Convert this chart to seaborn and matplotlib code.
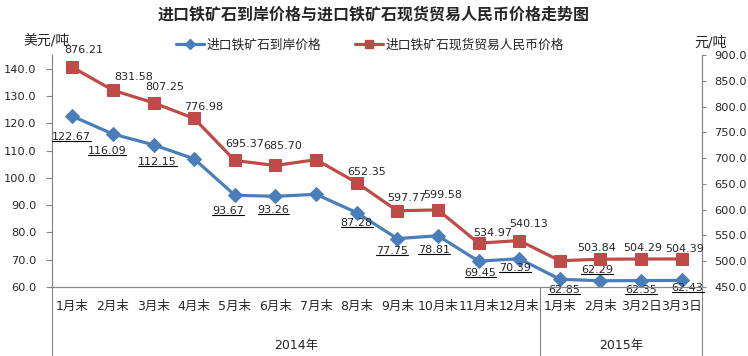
import numpy as np
import pandas as pd
import seaborn as sns
import matplotlib.pyplot as plt
from matplotlib.lines import Line2D

# Data
categories = ['1月末', '2月末', '3月末', '4月末', '5月末', '6月末', '7月末', '8月末',
              '9月末', '10月末', '11月末', '12月末', '1月末', '2月末', '3月2日', '3月3日']
years = ['2014年', '2015年']
year_counts = [12, 4]

usd_price = [122.67, 116.09, 112.15, 107.0, 93.67, 93.26, 94.0, 87.28,
             77.75, 78.81, 69.45, 70.39, 62.85, 62.29, 62.35, 62.43]
rmb_price = [876.21, 831.58, 807.25, 776.98, 695.37, 685.70, 697.0, 652.35,
             597.77, 599.58, 534.97, 540.13, 501.0, 503.84, 504.29, 504.39]

usd_name = '进口铁矿石到岸价格'
rmb_name = '进口铁矿石现货贸易人民币价格'

# which points carry a value label
usd_labeled = [0, 1, 2, 4, 5, 7, 8, 9, 10, 11, 12, 13, 14, 15]
rmb_labeled = [0, 1, 2, 3, 4, 5, 7, 8, 9, 10, 11, 13, 14, 15]

# label offsets from the point (pixels), as placed in the original
usd_off = {0: (-1, -21), 1: (-6, -17), 2: (4, -17), 4: (-7, -16), 5: (-2, -14),
           7: (0, -10), 8: (-5, -12), 9: (-4, -14), 10: (2, -12), 11: (-4, -9),
           12: (4, -11), 13: (-3, 11), 14: (0, -9), 15: (6, -8)}
rmb_off = {0: (11, 17), 1: (21, 13), 2: (11, 16), 3: (9, 11), 4: (10, 16),
           5: (7, 19), 7: (10, 11), 8: (9, 13), 9: (5, 15), 10: (14, 10),
           11: (9, 17), 13: (-4, 11), 14: (2, 11), 15: (3, 10)}

df = pd.DataFrame({'pos': np.arange(len(categories)), 'cat': categories,
                   'usd': usd_price, 'rmb': rmb_price})

blue = '#4A7EBB'
red = '#BE4B48'
grey = '#868686'

sns.set_style('white')
plt.rcParams['font.family'] = ['DejaVu Sans', 'Noto Sans CJK SC']

fig = plt.figure(figsize=(7.48, 3.56), dpi=100)
ax = fig.add_axes([52 / 748, 69 / 356, 650 / 748, 232 / 356])
ax2 = ax.twinx()

sns.lineplot(data=df, x='pos', y='usd', ax=ax, color=blue, linewidth=2.3,
             marker='D', markersize=7, markeredgecolor=blue, label=usd_name, legend=False)
sns.lineplot(data=df, x='pos', y='rmb', ax=ax2, color=red, linewidth=2.3,
             marker='s', markersize=9, markeredgecolor=red, label=rmb_name, legend=False)

n = len(categories)
ax.set_xlim(-0.5, n - 0.5)
ax.set_ylim(60, 145.1)
ax2.set_ylim(450, 900)
ax.set_yticks(np.arange(60, 141, 10))
ax.set_yticklabels([f'{v:.1f}' for v in np.arange(60, 141, 10)])
ax2.set_yticks(np.arange(450, 901, 50))
ax2.set_yticklabels([f'{v:.1f}' for v in np.arange(450, 901, 50)])
ax.set_xlabel('')
ax.set_ylabel('')
ax2.set_ylabel('')

# category labels and separators
ax.set_xticks(df['pos'])
ax.set_xticklabels(categories, fontsize=9)
ax.set_xticks(np.arange(-0.5, n, 1), minor=True)
ax.tick_params(axis='x', which='major', length=0, pad=9)
ax.tick_params(axis='x', which='minor', length=27.5, width=0.8, color=grey, direction='out')
ax.tick_params(axis='y', length=4, width=0.8, color=grey, direction='out', labelsize=8.2, pad=7)
ax2.tick_params(axis='y', length=3, width=0.8, color=grey, direction='out', labelsize=8.2, pad=6)

for a in (ax, ax2):
    a.spines['top'].set_visible(False)
    for s in ('left', 'right', 'bottom'):
        a.spines[s].set_color(grey)
        a.spines[s].set_linewidth(0.8)

# year groups
trans = ax.get_xaxis_transform()
bounds = np.concatenate([[0], np.cumsum(year_counts)]) - 0.5
for b in bounds:
    ax.plot([b, b], [0, -0.3], transform=trans, color=grey, lw=0.8, clip_on=False)
for i, yr in enumerate(years):
    ax.text((bounds[i] + bounds[i + 1]) / 2, -0.25, yr, transform=trans,
            ha='center', va='center', fontsize=9)

# value labels
usd_texts = []
for i in usd_labeled:
    dx, dy = usd_off[i]
    t = ax.annotate(f'{usd_price[i]:.2f}', (i, usd_price[i]), xytext=(dx * 0.72, dy * 0.72),
                    textcoords='offset points', ha='center', va='center', fontsize=8)
    usd_texts.append(t)
for i in rmb_labeled:
    dx, dy = rmb_off[i]
    ax2.annotate(f'{rmb_price[i]:.2f}', (i, rmb_price[i]), xytext=(dx * 0.72, dy * 0.72),
                 textcoords='offset points', ha='center', va='center', fontsize=8)

# titles and unit labels
fig.text(0.5, 1 - 14 / 356, '进口铁矿石到岸价格与进口铁矿石现货贸易人民币价格走势图',
         ha='center', va='center', fontsize=11.5, fontweight='bold',
         family=['Noto Sans CJK SC', 'DejaVu Sans'])
fig.text(47 / 748, 1 - 40 / 356, '美元/吨', ha='center', va='center', fontsize=10)
fig.text(710 / 748, 1 - 43 / 356, '元/吨', ha='center', va='center', fontsize=10)

handles = [Line2D([], [], color=blue, lw=2.3, marker='D', markersize=5),
           Line2D([], [], color=red, lw=2.3, marker='s', markersize=6)]
fig.legend(handles, [usd_name, rmb_name], loc='center', bbox_to_anchor=(370 / 748, 1 - 45 / 356),
           ncol=2, frameon=False, fontsize=9.2, handlelength=2.2, handletextpad=0.2,
           columnspacing=2.6)

# underline the blue labels
fig.canvas.draw()
renderer = fig.canvas.get_renderer()
inv = fig.transFigure.inverted()
for t in usd_texts:
    bb = t.get_window_extent(renderer)
    (x0, y0), (x1, _) = inv.transform([(bb.x0, bb.y0 + 1), (bb.x1, bb.y0 + 1)])
    fig.add_artist(Line2D([x0, x1], [y0, y0], color='black', lw=0.8, transform=fig.transFigure))

fig.savefig('out.png', dpi=100)
